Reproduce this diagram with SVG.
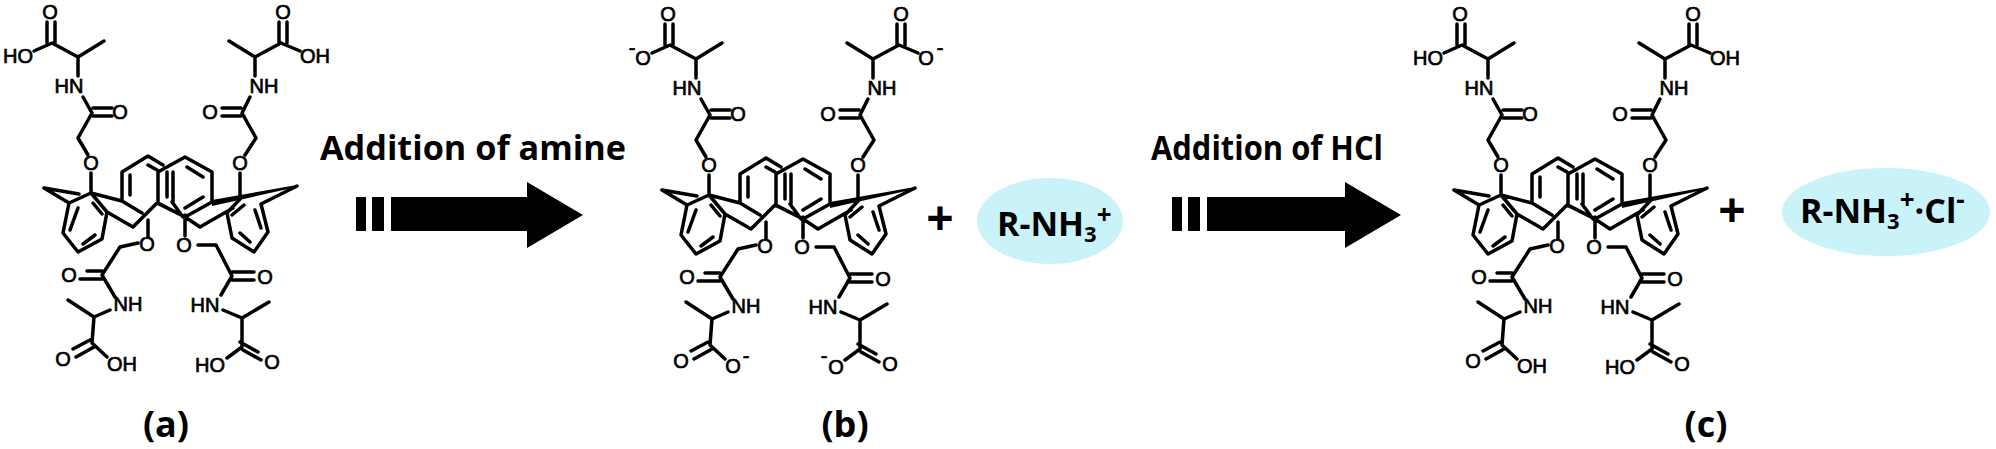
<svg xmlns="http://www.w3.org/2000/svg" xmlns:xlink="http://www.w3.org/1999/xlink" width="1996" height="449" viewBox="0 0 1996 449">
<style>
.b{fill:none;stroke:#000;stroke-width:3.5;stroke-linecap:round;stroke-linejoin:round}
.l{font-family:"Liberation Sans",Arial,sans-serif;font-size:20px;text-anchor:middle;fill:#000;stroke:#000;stroke-width:.7}
.t{font-family:"Open Sans","Liberation Sans",sans-serif;font-weight:700;font-size:34px;fill:#000}
.p{font-family:"Open Sans","Liberation Sans",sans-serif;font-weight:700;font-size:36px;fill:#000;text-anchor:middle}
.plus{font-size:48px}
.sub{font-size:22px}
.sup{font-size:26px}
.e{fill:#c9f3f9}
</style>
<defs>
<g id="skeleton">
<path class="b" d="M91 193L107 212L102 239L78 252L63 233L69 203L91 193M78 208L70 230M83 244L95 235M93 203L102 214M44 188L79 194M44 188L69 203M91 173V193M91 193L122 201V172L148 156L163 165M173 172V202M122 201L142 213M107 212L133 227L157 203L185 217L200 227L233 208M158 172L185 157L212 172V202L185 217L158 203ZM187 167L203 177M185 208L203 197M167 172V197M148 165L157 170M130 175V195M172 202L183 217M148 220V237M185 215V236M240 173V195M240 199L227 213L232 238L254 252L268 232L261 204L297 186M232 215L244 205M255 210L261 228M240 233L250 242"/>
<polygon points="212,200 297,185 297,187 212,206" fill="#000"/>
<path class="b" d="M47 22V43M55 22V43M34 51L52 43L78 57L104 41M78 57V76M83 97L92 113L78 138L88 155M93 108H112M93 116H112"/>
<path class="b" d="M279 22V43M287 22V43M300 51L281 43L255 57L229 41M255 57V76M250 97L242 113L256 138L245 155M241 108H222M241 116H222"/>
<path class="b" d="M138 243L120 247L102 275L115 297M87 271H102M80 279H102M110 310L94 317L68 300M94 317L92 343L107 357M90 340L73 349M94 347L76 357"/>
<path class="b" d="M198 245H216L232 276L221 295M232 272H254M232 280H254M223 310L242 318L269 302M242 318V347L227 358M240 342L258 352M243 350L261 360"/>
</g>
</defs>
<g id="molecule-a">
<use href="#skeleton" xlink:href="#skeleton"/>
<text class="l" x="50" y="19">O</text><text class="l" x="18" y="63">HO</text><text class="l" x="69" y="93">HN</text><text class="l" x="120" y="119">O</text><text class="l" x="91" y="170">O</text>
<text class="l" x="283" y="19">O</text><text class="l" x="315" y="63">OH</text><text class="l" x="264" y="93">NH</text><text class="l" x="210" y="119">O</text><text class="l" x="240" y="170">O</text>
<text class="l" x="147" y="251">O</text><text class="l" x="184" y="252">O</text><text class="l" x="69" y="282">O</text><text class="l" x="265" y="284">O</text>
<text class="l" x="128" y="311">NH</text><text class="l" x="205" y="312">HN</text><text class="l" x="63" y="366">O</text><text class="l" x="122" y="371">OH</text><text class="l" x="272" y="369">O</text><text class="l" x="210" y="372">HO</text>
</g>
<g id="molecule-b" transform="translate(618 2)">
<use href="#skeleton" xlink:href="#skeleton"/>
<text class="l" x="50" y="19">O</text><text class="l" x="14" y="53">-</text><text class="l" x="25" y="63">O</text><text class="l" x="120" y="119">O</text><text class="l" x="69" y="93">HN</text><text class="l" x="91" y="170">O</text>
<text class="l" x="283" y="19">O</text><text class="l" x="308" y="63">O</text><text class="l" x="322" y="53">-</text><text class="l" x="264" y="93">NH</text><text class="l" x="210" y="119">O</text><text class="l" x="240" y="170">O</text>
<text class="l" x="147" y="251">O</text><text class="l" x="184" y="252">O</text><text class="l" x="69" y="282">O</text><text class="l" x="265" y="284">O</text>
<text class="l" x="128" y="311">NH</text><text class="l" x="205" y="312">HN</text><text class="l" x="63" y="366">O</text><text class="l" x="115" y="371">O</text><text class="l" x="128" y="361">-</text><text class="l" x="272" y="369">O</text><text class="l" x="218" y="372">O</text><text class="l" x="206" y="361">-</text>
</g>
<g id="molecule-c" transform="translate(1410 2)">
<use href="#skeleton" xlink:href="#skeleton"/>
<text class="l" x="50" y="19">O</text><text class="l" x="18" y="63">HO</text><text class="l" x="69" y="93">HN</text><text class="l" x="120" y="119">O</text><text class="l" x="91" y="170">O</text>
<text class="l" x="283" y="19">O</text><text class="l" x="315" y="63">OH</text><text class="l" x="264" y="93">NH</text><text class="l" x="210" y="119">O</text><text class="l" x="240" y="170">O</text>
<text class="l" x="147" y="251">O</text><text class="l" x="184" y="252">O</text><text class="l" x="69" y="282">O</text><text class="l" x="265" y="284">O</text>
<text class="l" x="128" y="311">NH</text><text class="l" x="205" y="312">HN</text><text class="l" x="63" y="366">O</text><text class="l" x="122" y="371">OH</text><text class="l" x="272" y="369">O</text><text class="l" x="210" y="372">HO</text>
</g>
<g id="connectors">
<path id="arrow-1" d="M356 197H366V231H356ZM372 197H384V231H372ZM391 197H527V182L583 215L527 248V231H391Z" fill="#000"/>
<path id="arrow-2" d="M1172 197H1182V231H1172ZM1188 197H1200V231H1188ZM1207 197H1345V182L1401 215L1345 248V231H1207Z" fill="#000"/>
</g>
<g id="label-amine"><text class="t" x="320" y="160" textLength="306" lengthAdjust="spacingAndGlyphs">Addition of amine</text></g>
<g id="label-hcl"><text class="t" x="1151" y="160" textLength="232" lengthAdjust="spacingAndGlyphs">Addition of HCl</text></g>
<g id="plus-1"><text class="p plus" x="940" y="235">+</text></g>
<g id="plus-2"><text class="p plus" x="1732" y="227">+</text></g>
<g id="ammonium"><ellipse class="e" cx="1050" cy="221" rx="73" ry="43"/><text class="t" x="997" y="236">R-NH<tspan class="sub" dy="6">3</tspan><tspan class="sup" dy="-18">+</tspan></text></g>
<g id="ammonium-chloride"><ellipse class="e" cx="1886" cy="212" rx="104" ry="44"/><text class="t" x="1800" y="223">R-NH<tspan class="sub" dy="6">3</tspan><tspan class="sup" dy="-20">+</tspan><tspan dy="14">·Cl</tspan><tspan class="sup" dy="-14">-</tspan></text></g>
<g id="caption-a"><text class="p" x="166" y="437">(a)</text></g>
<g id="caption-b"><text class="p" x="845" y="437">(b)</text></g>
<g id="caption-c"><text class="p" x="1706" y="437">(c)</text></g>
</svg>
